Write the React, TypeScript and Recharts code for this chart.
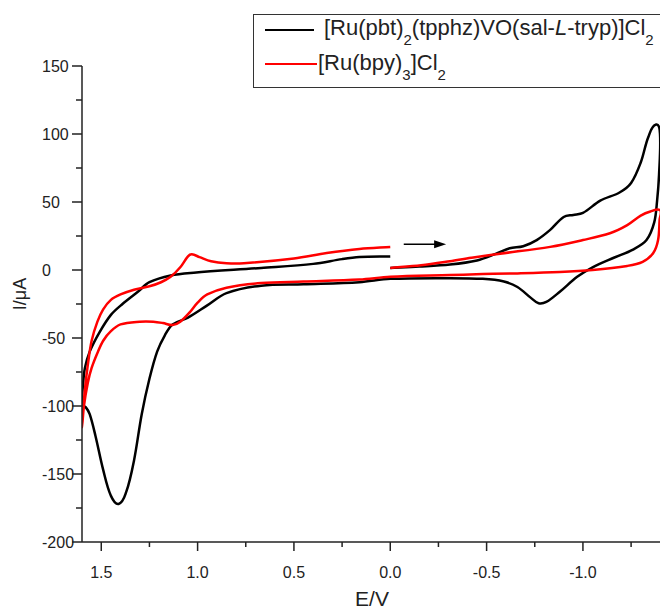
import React from 'react';
import { LineChart, Line, XAxis, YAxis, ReferenceLine, Label } from 'recharts';

// [Ru(pbt)2(tpphz)VO(sal-L-tryp)]Cl2 — one sweep, starting at 0.0 V going negative
const blackE = [
  0.0, -0.15, -0.31, -0.45, -0.55, -0.62, -0.69, -0.76, -0.83, -0.9, -0.95, -1.0, -1.09, -1.19, -1.25, -1.3, -1.34, -1.38,
  -1.4, -1.395, -1.385, -1.37, -1.33, -1.26, -1.16, -1.05, -0.97, -0.88, -0.81, -0.77, -0.73, -0.66, -0.59, -0.48, -0.31,
  0.0, 0.16, 0.45, 0.67, 0.85, 0.95, 1.05, 1.13, 1.17, 1.21, 1.25, 1.29, 1.33, 1.37, 1.41, 1.45, 1.49, 1.53, 1.56,
  1.58, 1.6, 1.595, 1.585, 1.56, 1.51, 1.45, 1.39, 1.31, 1.25, 1.14, 1.02, 0.67, 0.4, 0.25, 0.16, 0.0,
];
const blackI = [
  1.5, 2.5, 4, 7, 12, 16, 17.5, 22, 29.5, 39, 40.5, 42, 51, 57, 64, 79, 98, 107,
  100, 70, 51, 35, 22, 15, 9, 2, -5, -16, -23.5, -24.5, -20.5, -12.5, -8.5, -6.5, -6,
  -6.5, -9, -10.5, -11.5, -17, -26, -35, -40, -48, -60, -80, -106, -140, -163, -172, -166, -147, -122, -106,
  -101, -99, -85, -72, -60, -46, -33, -25, -16, -9, -4, -2, 1.5, 4.5, 8, 9.5, 10,
];

// [Ru(bpy)3]Cl2
const redE = [
  0.0, -0.16, -0.31, -0.42, -0.57, -0.83, -1.0, -1.14, -1.23, -1.3, -1.35, -1.4,
  -1.398, -1.39, -1.365, -1.31, -1.23, -1.05, -0.88, -0.66, -0.48, -0.31, 0.0, 0.16, 0.45, 0.67, 0.85, 0.95, 1.0,
  1.04, 1.09, 1.13, 1.18, 1.23, 1.3, 1.4, 1.45, 1.49, 1.52, 1.55, 1.57, 1.59, 1.6,
  1.595, 1.585, 1.57, 1.55, 1.52, 1.49, 1.45, 1.4, 1.33, 1.25, 1.19, 1.14, 1.09, 1.05, 1.03, 0.99, 0.93, 0.85, 0.76,
  0.5, 0.33, 0.16, 0.0,
];
const redI = [
  1.5, 3.5, 6.5, 9, 12, 17, 22, 27, 33, 40, 43, 44,
  37, 22, 12.5, 6, 3, 0, -1.5, -2.5, -3, -3.7, -5, -7, -8.5, -9.6, -13, -18, -24,
  -31, -38, -40.5, -39, -38, -38, -40, -45, -52, -61, -72, -83, -100, -115,
  -105, -88, -70, -52, -38, -29, -22, -18, -14.5, -12, -9, -5, 2, 10, 11.5, 9.5, 6.5, 5, 5,
  8.5, 12.5, 15.5, 17,
];

const xTicks = [1.5, 1.25, 1.0, 0.75, 0.5, 0.25, 0, -0.25, -0.5, -0.75, -1.0, -1.25];
const yTicks = [-200, -175, -150, -125, -100, -75, -50, -25, 0, 25, 50, 75, 100, 125, 150];
const arrowE = [-0.07, -0.29];
const arrowI = 19;

const blackData = blackE.map((e, k) => ({ e, i: blackI[k] }));
const redData = redE.map((e, k) => ({ e, i: redI[k] }));

const axisColor = '#222';
const font = '"Liberation Sans", Arial, sans-serif';

// smooth curve through the points in drawing order (the sweeps loop back in x)
const smoothCurve: any = (context: any) => {
  let pts: number[][] = [];
  return {
    areaStart() {},
    areaEnd() {},
    lineStart() {
      pts = [];
    },
    point(x: number, y: number) {
      pts.push([+x, +y]);
    },
    lineEnd() {
      const n = pts.length;
      if (!n) return;
      context.moveTo(pts[0][0], pts[0][1]);
      for (let k = 0; k < n - 1; k++) {
        const p0 = pts[Math.max(k - 1, 0)];
        const p1 = pts[k];
        const p2 = pts[k + 1];
        const p3 = pts[Math.min(k + 2, n - 1)];
        const d = Math.hypot(p2[0] - p1[0], p2[1] - p1[1]);
        const da = Math.hypot(p2[0] - p0[0], p2[1] - p0[1]) || 1;
        const db = Math.hypot(p3[0] - p1[0], p3[1] - p1[1]) || 1;
        context.bezierCurveTo(
          p1[0] + ((p2[0] - p0[0]) * d) / da / 3,
          p1[1] + ((p2[1] - p0[1]) * d) / da / 3,
          p2[0] - ((p3[0] - p1[0]) * d) / db / 3,
          p2[1] - ((p3[1] - p1[1]) * d) / db / 3,
          p2[0],
          p2[1],
        );
      }
    },
  };
};

function XTick(props: any) {
  const { x, y, payload } = props;
  const v = payload.value;
  const major = Math.abs(v * 2 - Math.round(v * 2)) < 1e-6;
  return (
    <g>
      <line x1={x} y1={y} x2={x} y2={y + (major ? 9 : 5)} stroke={axisColor} strokeWidth={1.5} />
      {major && (
        <text x={x} y={y + 36} textAnchor="middle" fontSize={16} fontFamily={font} fill={axisColor}>
          {v.toFixed(1)}
        </text>
      )}
    </g>
  );
}

function YTick(props: any) {
  const { x, y, payload } = props;
  const v = payload.value;
  const major = v % 50 === 0;
  return (
    <g>
      <line x1={x} y1={y} x2={x - (major ? 10 : 6)} y2={y} stroke={axisColor} strokeWidth={1.5} />
      {major && (
        <text x={42} y={y + 5.7} textAnchor="start" fontSize={16} fontFamily={font} fill={axisColor}>
          {String(v)}
        </text>
      )}
    </g>
  );
}

function Arrow(props: any) {
  const { x1, y1, x2, y2 } = props;
  return (
    <g>
      <line x1={x1} y1={y1} x2={x2 - 8} y2={y2} stroke="#000" strokeWidth={1.5} />
      <polygon points={`${x2},${y2} ${x2 - 12},${y2 - 4} ${x2 - 12},${y2 + 4}`} fill="#000" />
    </g>
  );
}

function LegendBox() {
  const sub = { fontSize: 15, position: 'relative' as const, top: 10 };
  return (
    <div
      style={{
        position: 'absolute',
        left: 253,
        top: 14,
        width: 430,
        height: 72,
        border: '1.5px solid #333',
        background: '#fff',
        fontFamily: font,
        fontSize: 22,
        color: '#222',
        lineHeight: '26px',
        whiteSpace: 'nowrap',
      }}
    >
      <div style={{ position: 'absolute', left: 11, top: 13.5, width: 49, height: 2, background: '#000' }} />
      <div style={{ position: 'absolute', left: 70, top: 0 }}>
        [Ru(pbt)<span style={sub}>2</span>(tpphz)VO(sal-<i>L</i>-tryp)]Cl<span style={sub}>2</span>
      </div>
      <div style={{ position: 'absolute', left: 11, top: 47.5, width: 52, height: 2.5, background: '#ff0000' }} />
      <div style={{ position: 'absolute', left: 64, top: 34.5 }}>
        [Ru(bpy)<span style={sub}>3</span>]Cl<span style={sub}>2</span>
      </div>
    </div>
  );
}

export default function App() {
  return (
    <div style={{ position: 'absolute', left: 0, top: 0, width: 660, height: 611, overflow: 'hidden', background: '#fff' }}>
      <LineChart width={660} height={611} margin={{ top: 66, right: 0, bottom: 0, left: 0 }}>
        <XAxis
          dataKey="e"
          type="number"
          domain={[-1.4, 1.6]}
          reversed
          allowDataOverflow
          ticks={xTicks}
          interval={0}
          height={69}
          tickSize={0}
          tickMargin={0}
          tickLine={false}
          tick={<XTick />}
          axisLine={{ stroke: axisColor, strokeWidth: 1.5 }}
        >
          <Label
            content={() => (
              <text x={372} y={606} textAnchor="middle" fontSize={21} fontFamily={font} fill={axisColor}>
                E/V
              </text>
            )}
          />
        </XAxis>
        <YAxis
          type="number"
          domain={[-200, 150]}
          allowDataOverflow
          ticks={yTicks}
          interval={0}
          width={82}
          tickSize={0}
          tickMargin={0}
          tickLine={false}
          tick={<YTick />}
          axisLine={{ stroke: axisColor, strokeWidth: 1.5 }}
        >
          <Label
            content={() => (
              <text
                x={26}
                y={294}
                transform="rotate(-90 26 294)"
                textAnchor="middle"
                fontSize={18}
                fontFamily={font}
                fill={axisColor}
              >
                I/μA
              </text>
            )}
          />
        </YAxis>
        <Line
          data={blackData}
          dataKey="i"
          type={smoothCurve}
          stroke="#000"
          strokeWidth={2.5}
          dot={false}
          isAnimationActive={false}
        />
        <Line
          data={redData}
          dataKey="i"
          type={smoothCurve}
          stroke="#ff0000"
          strokeWidth={2.5}
          dot={false}
          isAnimationActive={false}
        />
        <ReferenceLine
          segment={[
            { x: arrowE[0], y: arrowI },
            { x: arrowE[1], y: arrowI },
          ]}
          shape={Arrow}
        />
      </LineChart>
      <LegendBox />
    </div>
  );
}
